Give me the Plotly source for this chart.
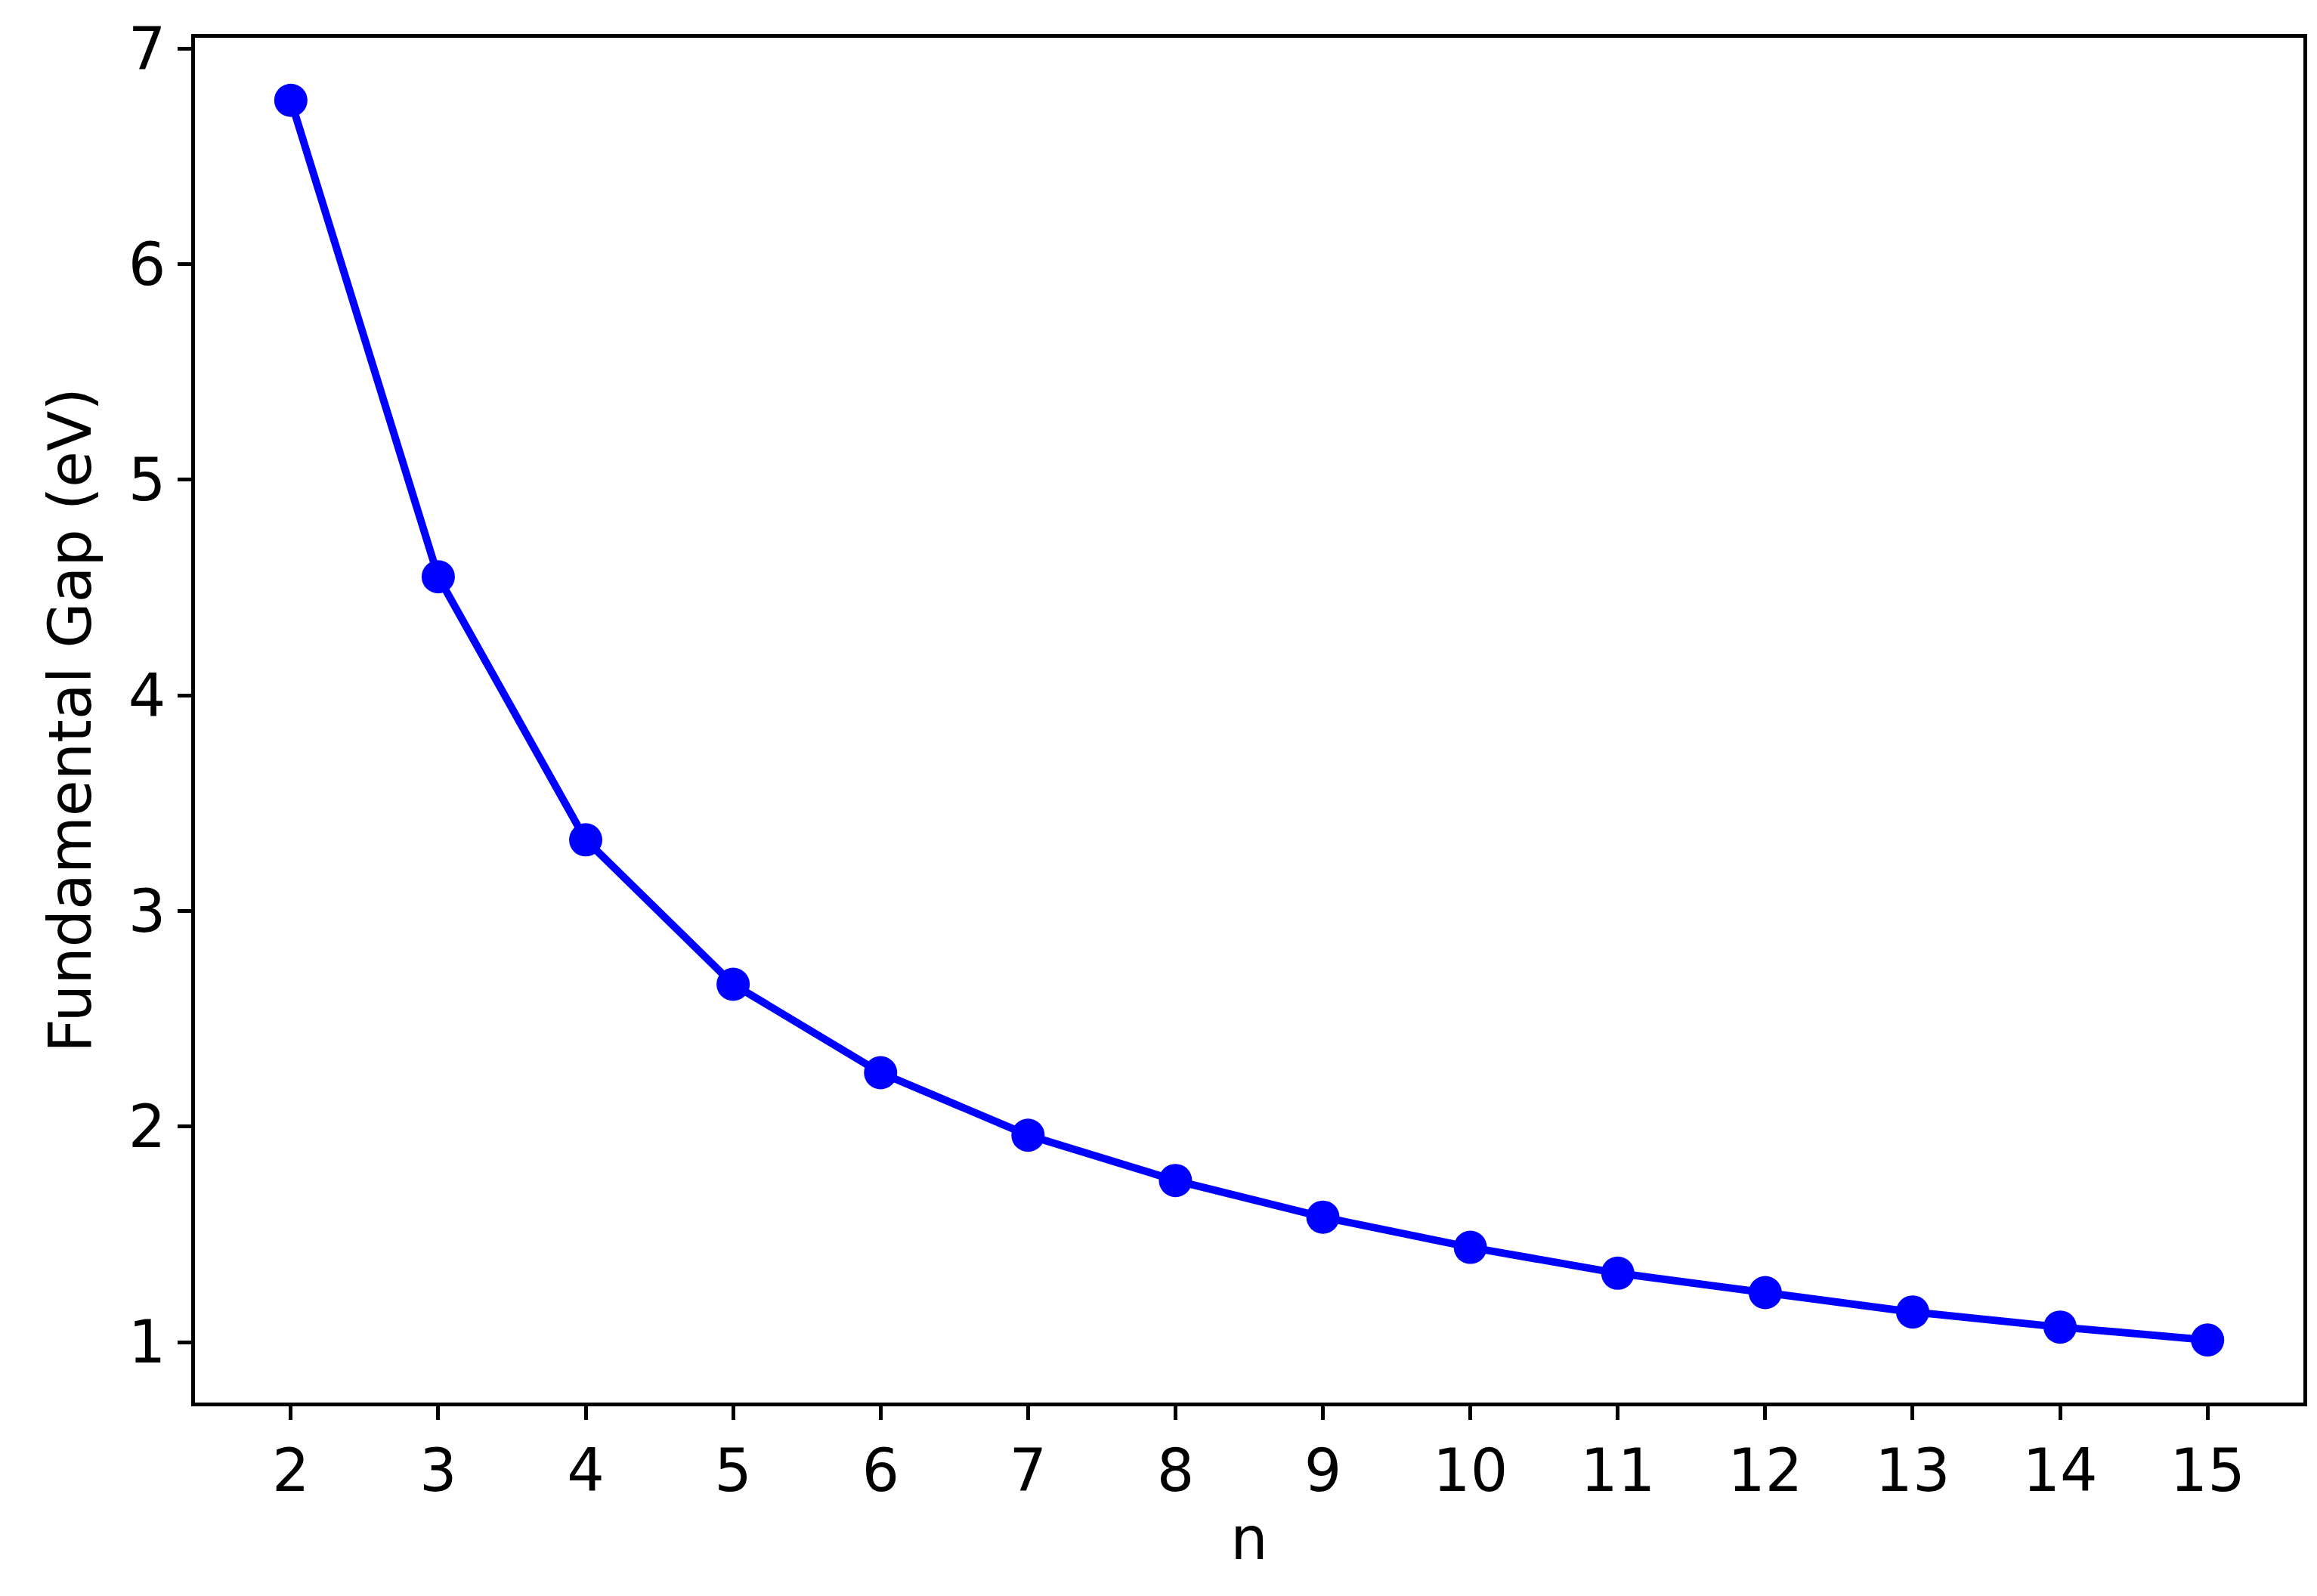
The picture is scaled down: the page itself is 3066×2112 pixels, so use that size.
import plotly.graph_objects as go

n_values = list(range(2, 16))
gap_ev = [6.76, 4.55, 3.33, 2.66, 2.25, 1.96, 1.75, 1.58, 1.44, 1.32, 1.23, 1.14, 1.07, 1.01]

fig = go.Figure(go.Scatter(x=n_values, y=gap_ev, mode="lines+markers",
    line=dict(color="#0000ff", width=10), marker=dict(color="#0000ff", size=44)))

font = dict(family="DejaVu Sans", size=78, color="black")
axis = dict(showline=True, linewidth=5, linecolor="black", mirror=True, ticks="outside",
            ticklen=18, tickwidth=5, tickcolor="black", showgrid=False, zeroline=False,
            tickfont=font, title_font=font)
fig.update_layout(width=3066, height=2112, plot_bgcolor="white", paper_bgcolor="white",
    margin=dict(l=250, r=26, t=35, b=264), showlegend=False,
    xaxis=dict(axis, range=[1.35, 15.65], tickmode="array", tickvals=n_values, title=dict(text="n", standoff=20)),
    yaxis=dict(axis, range=[0.72, 7.05], tickmode="array", tickvals=[1,2,3,4,5,6,7], title=dict(text="Fundamental Gap (eV)", standoff=25)))
fig.write_html("out.html")
